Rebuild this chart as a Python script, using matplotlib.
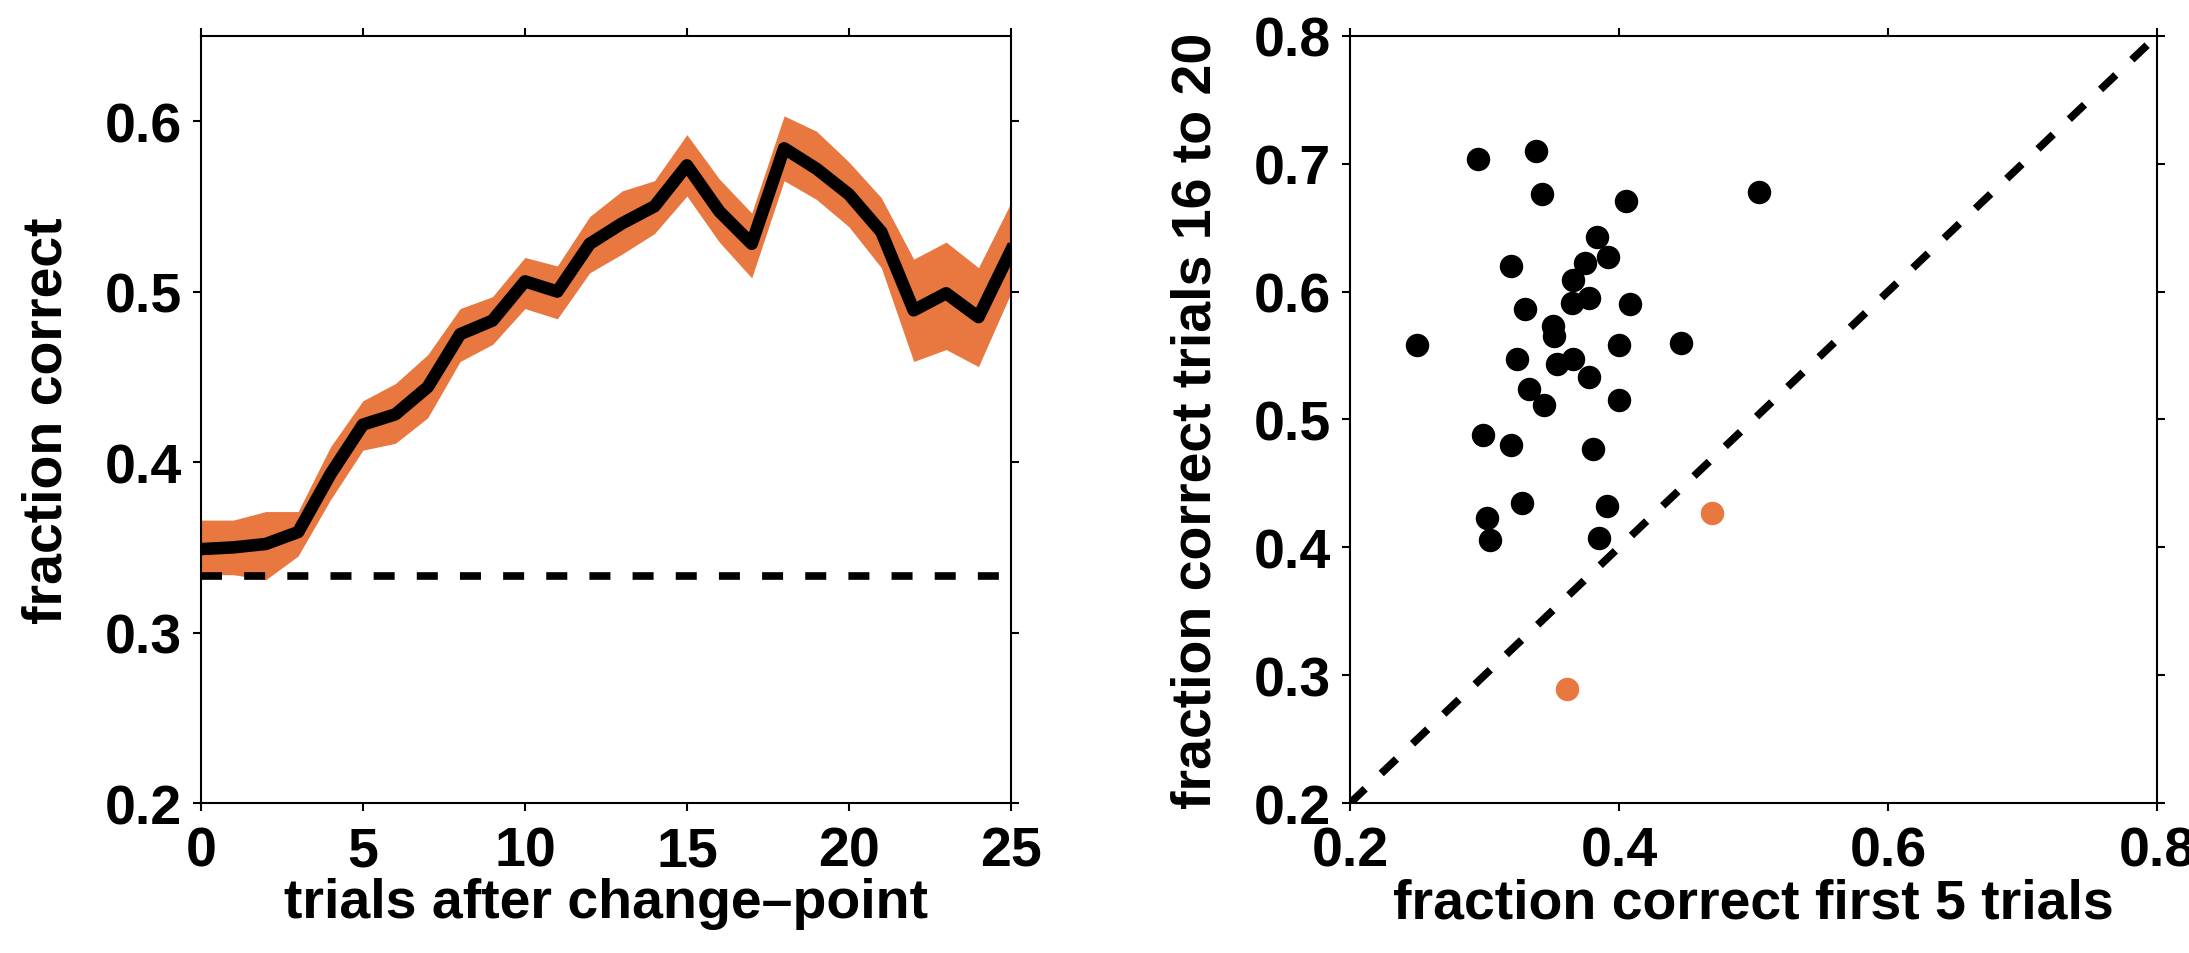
import matplotlib
matplotlib.use("Agg")
import matplotlib.pyplot as plt

plt.rcParams["font.family"] = ["Liberation Sans", "DejaVu Sans"]
plt.rcParams["font.weight"] = "bold"
plt.rcParams["font.size"] = 40
plt.rcParams["axes.labelweight"] = "bold"

ORANGE = "#e8783f"

# left panel: learning curve after a change-point
trials = list(range(26))
mean_correct = [0.349, 0.350, 0.352, 0.359, 0.393, 0.422, 0.428, 0.444, 0.475, 0.483,
                0.506, 0.500, 0.528, 0.540, 0.550, 0.574, 0.547, 0.528, 0.584, 0.572,
                0.557, 0.535, 0.489, 0.499, 0.485, 0.524]
upper_correct = [0.366, 0.366, 0.371, 0.371, 0.409, 0.436, 0.446, 0.463, 0.490, 0.497,
                 0.520, 0.515, 0.544, 0.559, 0.565, 0.592, 0.566, 0.546, 0.603, 0.594,
                 0.576, 0.555, 0.519, 0.529, 0.514, 0.552]
lower_correct = [0.334, 0.334, 0.331, 0.345, 0.378, 0.407, 0.411, 0.426, 0.459, 0.469,
                 0.490, 0.484, 0.511, 0.522, 0.534, 0.556, 0.529, 0.508, 0.565, 0.554,
                 0.538, 0.514, 0.459, 0.466, 0.456, 0.499]
chance = 1 / 3

# right panel: per-subject early vs late accuracy
first5 = [0.250, 0.295, 0.338, 0.343, 0.405, 0.504, 0.384, 0.392, 0.375, 0.320,
          0.366, 0.378, 0.365, 0.408, 0.330, 0.351, 0.352, 0.400, 0.446, 0.324,
          0.366, 0.354, 0.378, 0.333, 0.344, 0.400, 0.299, 0.320, 0.381, 0.328,
          0.391, 0.302, 0.304, 0.385]
last5 = [0.558, 0.704, 0.710, 0.676, 0.671, 0.678, 0.643, 0.627, 0.622, 0.620,
         0.609, 0.595, 0.591, 0.590, 0.586, 0.573, 0.565, 0.558, 0.560, 0.547,
         0.547, 0.543, 0.533, 0.524, 0.511, 0.515, 0.488, 0.480, 0.477, 0.435,
         0.432, 0.423, 0.406, 0.407]
first5_worse = [0.469, 0.361]
last5_worse = [0.427, 0.289]


def style_axes(ax):
    for sp in ax.spines.values():
        sp.set_linewidth(1.5)
    ax.tick_params(direction="out", length=6, width=1.5, top=True, right=True,
                   labeltop=False, labelright=False)
    ax.tick_params(axis="x", pad=10)
    ax.tick_params(axis="y", pad=8)


fig = plt.figure(figsize=(21.89, 9.54), dpi=100)

ax1 = fig.add_axes([0.0918, 0.157, 0.370, 0.8045])
ax1.fill_between(trials, lower_correct, upper_correct, color=ORANGE, linewidth=0)
ax1.plot([0, 25], [chance, chance], color="black", lw=5.5,
         linestyle=(0, (2.75, 2.9)))
ax1.plot(trials, mean_correct, color="black", lw=9, solid_joinstyle="round")
ax1.set_xlim(0, 25)
ax1.set_ylim(0.2, 0.65)
ax1.set_xticks([0, 5, 10, 15, 20, 25])
ax1.set_yticks([0.2, 0.3, 0.4, 0.5, 0.6])
ax1.set_xlabel("trials after change\u2013point", labelpad=0)
ax1.set_ylabel("fraction correct", labelpad=22)
style_axes(ax1)

ax2 = fig.add_axes([0.6167, 0.157, 0.3687, 0.8045])
ax2.plot([0.2, 0.8], [0.2, 0.8], color="black", lw=5.5,
         linestyle=(0, (2.75, 2.9)), zorder=1)
ax2.scatter(first5, last5, s=285, color="black", linewidths=0, zorder=3)
ax2.scatter(first5_worse, last5_worse, s=285, color=ORANGE, linewidths=0, zorder=3)
ax2.set_xlim(0.2, 0.8)
ax2.set_ylim(0.2, 0.8)
ax2.set_xticks([0.2, 0.4, 0.6, 0.8])
ax2.set_yticks([0.2, 0.3, 0.4, 0.5, 0.6, 0.7, 0.8])
ax2.set_xlabel("fraction correct first 5 trials", labelpad=0)
ax2.set_ylabel("fraction correct trials 16 to 20", labelpad=22)
style_axes(ax2)

fig.savefig("out.png", dpi=100)
